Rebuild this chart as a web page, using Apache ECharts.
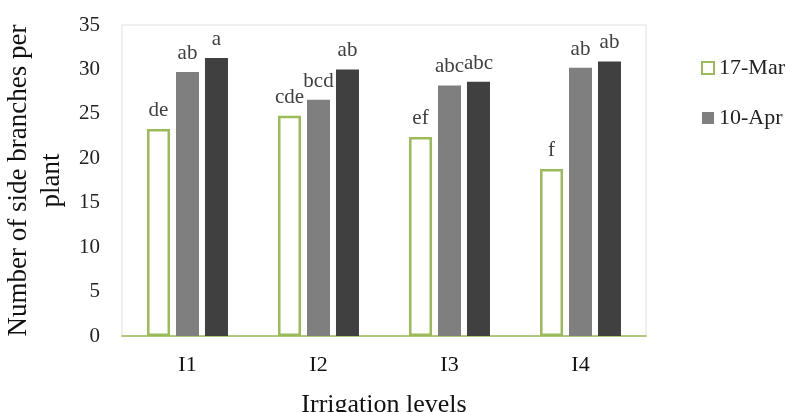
<!DOCTYPE html>
<html><head><meta charset="utf-8">
<script src="https://cdn.jsdelivr.net/npm/echarts@6/dist/echarts.min.js"></script>
<style>html,body{margin:0;padding:0;background:#fff}#c{width:788px;height:412px}</style>
</head><body><div id="c"></div>
<script>
const categories = ['I1','I2','I3','I4'];
const mar17 = [23.3, 24.8, 22.4, 18.8];
const apr10 = [29.7, 26.6, 28.2, 30.2];
const third = [31.3, 30.0, 28.6, 30.9];
const mar17Letters = ['de','cde','ef','f'];
const apr10Letters = ['ab','bcd','abc','ab'];
const thirdLetters = ['a','ab','abc','ab'];
const yTicks = [0,5,10,15,20,25,30,35];

const font = '"Liberation Serif", "Times New Roman", serif';
const chart = echarts.init(document.getElementById('c'));
function lbl(letters){
  return {show:true, position:'top', distance:8, fontFamily:font, fontSize:21, color:'#404040',
    formatter: p => letters[p.dataIndex]};
}
chart.setOption({
  animation:false,
  grid:{left:122, right:142, top:25, bottom:76, outerBoundsMode:'none', containLabel:false,
    show:true, borderColor:'#efefef', borderWidth:2, backgroundColor:'transparent'},
  legend:{
    data:[{name:'17-Mar', icon:'rect'},{name:'10-Apr', icon:'rect'}], orient:'vertical', left:696, top:52,
    itemWidth:12, itemHeight:12, itemGap:28,
    textStyle:{fontFamily:font, fontSize:22, color:'#222'}
  },
  xAxis:{type:'category', data:categories,
    axisLine:{lineStyle:{color:'#9BBB59', width:1.5}}, axisTick:{show:false},
    axisLabel:{fontFamily:font, fontSize:22, color:'#111', margin:18},
    name:'Irrigation levels', nameLocation:'middle', nameGap:56,
    nameTextStyle:{fontFamily:font, fontSize:26, color:'#111'}
  },
  yAxis:{type:'value', min:0, max:35, interval:5,
    axisLine:{show:false}, axisTick:{show:false}, splitLine:{show:false},
    axisLabel:{fontFamily:font, fontSize:21, color:'#222', margin:22, formatter: v => yTicks.includes(v) ? String(v) : ''},
    name:'Number of side branches per\nplant', nameLocation:'middle', nameGap:52, nameRotate:90,
    nameTextStyle:{fontFamily:font, fontSize:27, color:'#111', lineHeight:33}
  },
  series:[
    {name:'17-Mar', type:'bar', data:mar17, barWidth:23, barGap:'26%',
      itemStyle:{color:'#ffffff', borderColor:'#9BBB59', borderWidth:2.5}, label:lbl(mar17Letters)},
    {name:'10-Apr', type:'bar', data:apr10, barWidth:23, barGap:'26%',
      itemStyle:{color:'#7F7F7F'}, label:lbl(apr10Letters)},
    {name:'Series3', type:'bar', data:third, barWidth:23, barGap:'26%',
      itemStyle:{color:'#404040'}, label:lbl(thirdLetters)}
  ]
});
</script></body></html>
